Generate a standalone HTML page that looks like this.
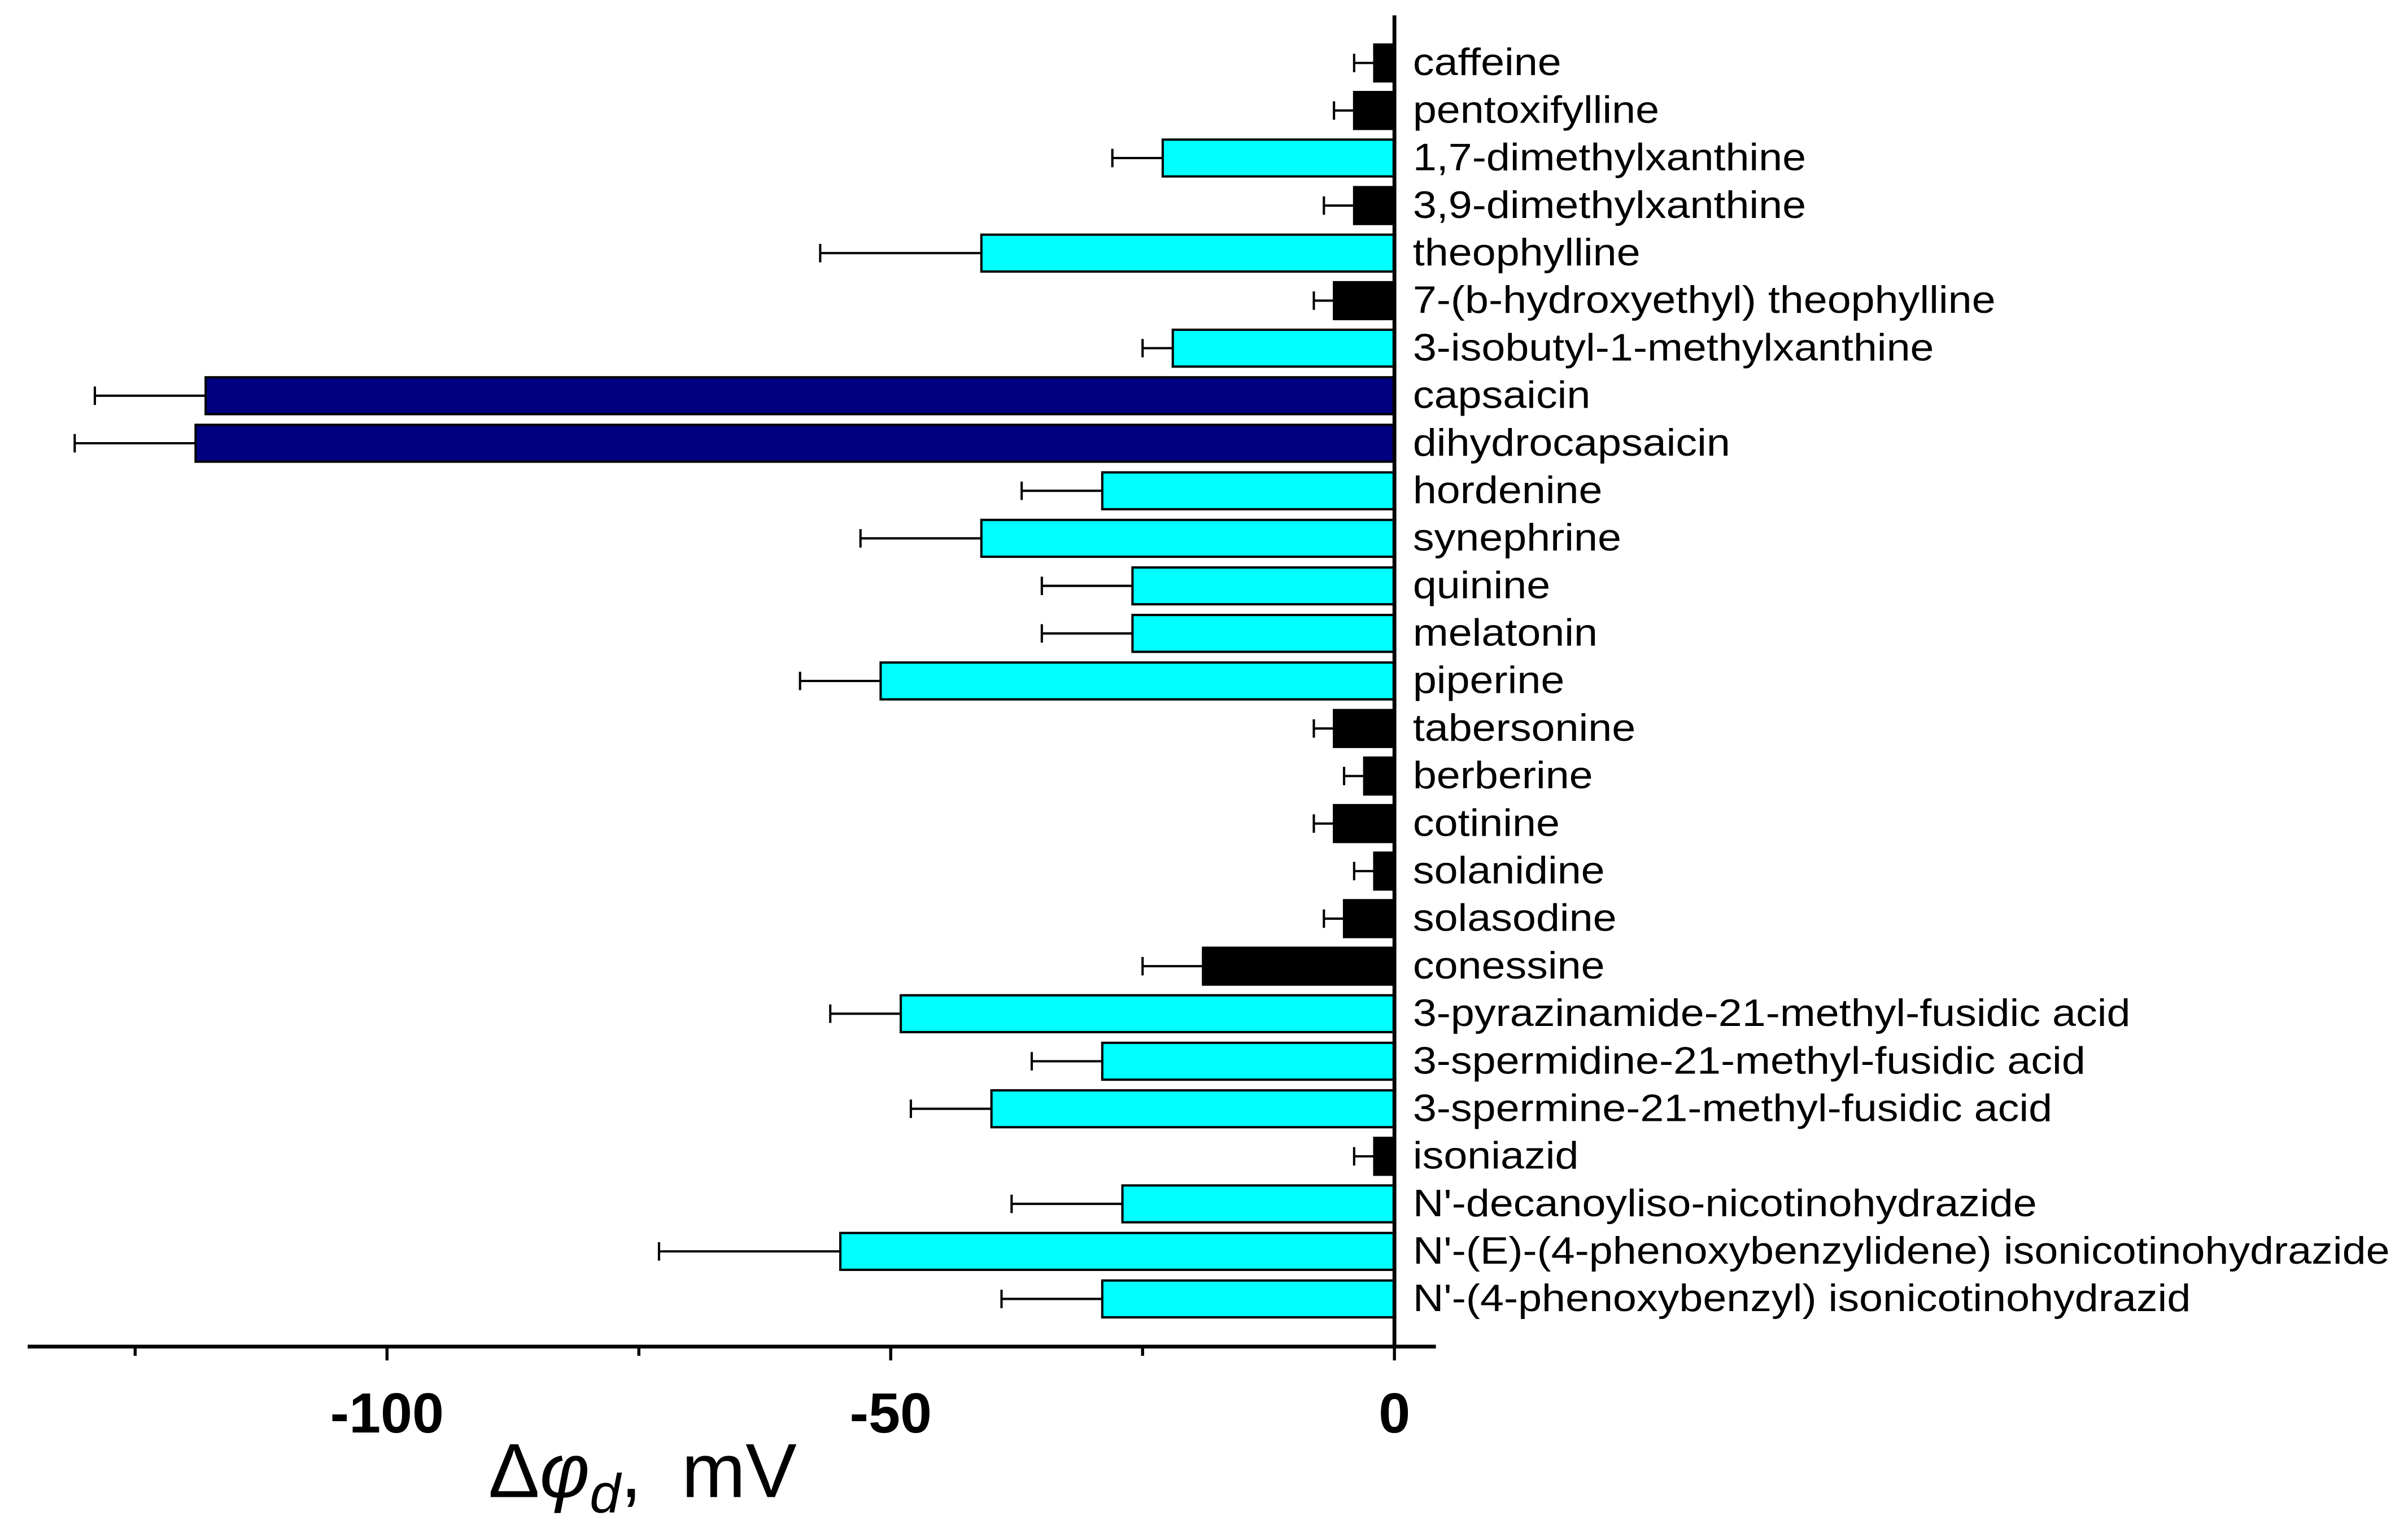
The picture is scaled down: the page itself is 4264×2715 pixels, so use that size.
<!DOCTYPE html>
<html><head><meta charset="utf-8"><style>
html,body{margin:0;padding:0;background:#fff;}
svg{display:block;}
</style></head><body>
<svg id="chart" width="4264" height="2715" viewBox="0 0 1568 998.4" preserveAspectRatio="none" xmlns="http://www.w3.org/2000/svg" font-family="Liberation Sans, Arial, sans-serif">
<g id="bars"></g>
<g id="labels"></g>
<g id="axes"></g>
</svg>
<script>
const categories = ["caffeine","pentoxifylline","1,7-dimethylxanthine","3,9-dimethylxanthine","theophylline","7-(b-hydroxyethyl) theophylline","3-isobutyl-1-methylxanthine","capsaicin","dihydrocapsaicin","hordenine","synephrine","quinine","melatonin","piperine","tabersonine","berberine","cotinine","solanidine","solasodine","conessine","3-pyrazinamide-21-methyl-fusidic acid","3-spermidine-21-methyl-fusidic acid","3-spermine-21-methyl-fusidic acid","isoniazid","N'-decanoyliso-nicotinohydrazide","N'-(E)-(4-phenoxybenzylidene) isonicotinohydrazide","N'-(4-phenoxybenzyl) isonicotinohydrazid"];
const values = [-2,-4,-23,-4,-41,-6,-22,-118,-119,-29,-41,-26,-26,-51,-6,-3,-6,-2,-5,-19,-49,-29,-40,-2,-27,-55,-29];
const errors = [2,2,5,3,16,2,3,11,12,8,12,9,9,8,2,2,2,2,2,6,7,7,8,2,11,18,10];
const groups = ["k","k","c","k","c","k","c","n","n","c","c","c","c","c","k","k","k","k","k","k","c","c","c","k","c","c","c"];
const tickValues = [-100,-50,0];
const tickLabels = ["-100","-50","0"];
const minorTicks = [-125,-75,-25];

const NS="http://www.w3.org/2000/svg";
const colors={k:"#000000",c:"#00ffff",n:"#000080"};
const x0=908, pxPerUnit=6.56;
function xs(v){return x0+v*pxPerUnit;}
const yTop=41, yStep=30.96, barH=24;
function ys(i){return yTop+i*yStep;}
function mk(tag,attrs,parent){const e=document.createElementNS(NS,tag);for(const k in attrs)e.setAttribute(k,attrs[k]);parent.appendChild(e);return e;}
const bars=document.getElementById('bars'), axes=document.getElementById('axes'), labels=document.getElementById('labels');
labels.setAttribute('transform','translate(920,0) scale(1.11,1)');
categories.forEach((c,i)=>{
  const v=values[i], y=ys(i);
  const r=mk('rect',{x:xs(v),y:y-barH/2,width:xs(0)-xs(v),height:barH,fill:colors[groups[i]],stroke:'#000','stroke-width':1.5},bars);
  
  
  const ex=xs(v-errors[i]);
  const l=mk('line',{x1:xs(v),x2:ex,y1:y,y2:y,stroke:'#000','stroke-width':1.5},bars);
  
  
  mk('line',{x1:ex,x2:ex,y1:y-6,y2:y+6,stroke:'#000','stroke-width':1.5},bars);
  const t=mk('text',{x:0,y:y+8,'font-size':25,fill:'#000'},labels);
  t.textContent=c;
  
  
});
const axisY=877;
const xa=mk('line',{x1:18,x2:935,y1:axisY,y2:axisY,stroke:'#000','stroke-width':2.5},axes);


const ya=mk('line',{x1:x0,x2:x0,y1:10,y2:axisY,stroke:'#000','stroke-width':2.5},axes);


tickValues.forEach((v,i)=>{
  mk('line',{x1:xs(v),x2:xs(v),y1:axisY,y2:axisY+9,stroke:'#000','stroke-width':2},axes);
  const t=mk('text',{x:xs(v),y:933,'font-size':37,'font-weight':'bold','text-anchor':'middle'},axes);
  t.textContent=tickLabels[i];
  
  
});
minorTicks.forEach(v=>{mk('line',{x1:xs(v),x2:xs(v),y1:axisY,y2:axisY+6,stroke:'#000','stroke-width':2},axes);});
const tt=mk('text',{x:318,y:975,'font-size':50},axes);


tt.innerHTML='Δ<tspan font-style="italic">φ</tspan><tspan font-style="italic" font-size="36" dy="10">d</tspan><tspan dy="-10">,</tspan><tspan dx="12"> mV</tspan>';
</script>
</body></html>
